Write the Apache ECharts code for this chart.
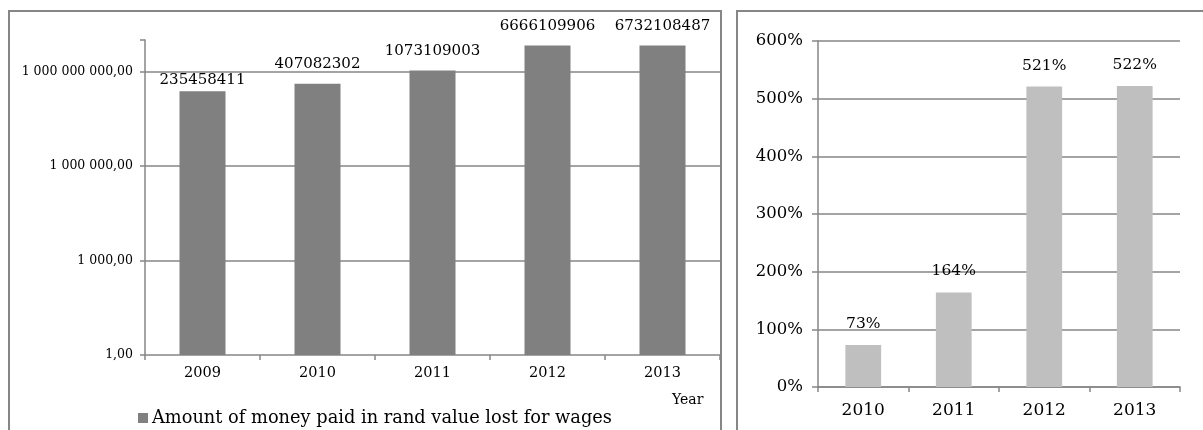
<!DOCTYPE html>
<html>
<head>
<meta charset="utf-8">
<script src="https://cdn.jsdelivr.net/npm/echarts@6/dist/echarts.min.js"></script>
<style>
html,body{margin:0;padding:0;background:#fff;}
#c{width:1203px;height:430px;}
</style>
</head>
<body>
<div id="c"></div>
<script>
// ---- data ----
var leftYears = ['2009', '2010', '2011', '2012', '2013'];
var leftValues = [235458411, 407082302, 1073109003, 6666109906, 6732108487];
var leftTicks = [1, 1000, 1000000, 1000000000];
var leftTickLabels = ['1,00', '1 000,00', '1 000 000,00', '1 000 000 000,00'];
var leftSeriesName = 'Amount of money paid in rand value lost for wages';
var leftAxisName = 'Year';

var rightYears = ['2010', '2011', '2012', '2013'];
var rightValues = [73, 164, 521, 522];

// ---- styles ----
var FONT = 'DejaVu Serif';
var GRID = '#868686';

var chart = echarts.init(document.getElementById('c'), null, {renderer: 'canvas'});

var leftData = leftValues.map(function (v, i) {
  var item = {value: v};
  if (i === 0) item.label = {distance: 4};
  return item;
});

var option = {
  animation: false,
  backgroundColor: '#fff',
  textStyle: {fontFamily: FONT, color: '#000'},
  graphic: [
    {type: 'rect', shape: {x: 9, y: 11, width: 712, height: 440}, style: {fill: 'none', stroke: GRID, lineWidth: 2}, silent: true, z: 0},
    {type: 'rect', shape: {x: 737, y: 11, width: 480, height: 440}, style: {fill: 'none', stroke: GRID, lineWidth: 2}, silent: true, z: 0}
  ],
  legend: {
    data: [leftSeriesName],
    left: 138,
    top: 409,
    padding: 0,
    itemWidth: 10,
    itemHeight: 10,
    icon: 'rect',
    textStyle: {fontFamily: FONT, fontSize: 17.8, color: '#000', padding: [0, 0, 0, -1]}
  },
  grid: [
    {left: 145, top: 40, width: 575, height: 315},
    {left: 818, top: 41, width: 362, height: 346}
  ],
  xAxis: [
    {
      type: 'category', gridIndex: 0, data: leftYears,
      name: leftAxisName, nameLocation: 'end', nameGap: -48,
      nameTextStyle: {fontFamily: FONT, fontSize: 14, color: '#000', align: 'left', verticalAlign: 'top', padding: [38, 0, 0, 0]},
      axisLine: {lineStyle: {color: GRID, width: 1.5}},
      axisTick: {show: true, length: 5, lineStyle: {color: GRID, width: 1.5}},
      axisLabel: {fontFamily: FONT, fontSize: 14.5, color: '#000', margin: 11}
    },
    {
      type: 'category', gridIndex: 1, data: rightYears,
      axisLine: {lineStyle: {color: GRID, width: 1.5}},
      axisTick: {show: true, length: 5, lineStyle: {color: GRID, width: 1.5}},
      axisLabel: {fontFamily: FONT, fontSize: 17, color: '#000', margin: 15}
    }
  ],
  yAxis: [
    {
      type: 'log', gridIndex: 0, logBase: 1000, min: 1, max: 1e10,
      axisLine: {show: true, lineStyle: {color: GRID, width: 1.5}},
      axisTick: {show: true, length: 5, lineStyle: {color: GRID, width: 1.5}},
      splitLine: {show: false},
      axisLabel: {
        fontFamily: FONT, fontSize: 12.5, color: '#000', margin: 12,
        formatter: function (v) {
          var idx = -1;
          for (var i = 0; i < leftTicks.length; i++) {
            if (Math.abs(Math.log10(v) - Math.log10(leftTicks[i])) < 1e-6) idx = i;
          }
          return idx >= 0 ? leftTickLabels[idx] : '';
        }
      }
    },
    {
      type: 'value', gridIndex: 1, min: 0, max: 600, interval: 100,
      axisLine: {show: true, lineStyle: {color: GRID, width: 1.5}},
      axisTick: {show: true, length: 6, lineStyle: {color: GRID, width: 1.5}},
      splitLine: {show: true, lineStyle: {color: GRID, width: 1.5}},
      axisLabel: {fontFamily: FONT, fontSize: 16.5, color: '#000', margin: 15, formatter: '{value}%'}
    }
  ],
  series: [
    {
      name: leftSeriesName,
      type: 'bar', xAxisIndex: 0, yAxisIndex: 0,
      data: leftData,
      barWidth: '40%',
      z: 3,
      itemStyle: {color: '#808080'},
      label: {show: true, position: 'top', distance: 12, fontFamily: FONT, fontSize: 15, color: '#000'},
      markLine: {
        silent: true, symbol: 'none', z: 1, animation: false,
        label: {show: false},
        lineStyle: {color: GRID, type: 'solid', width: 1.5},
        data: leftTicks.slice(1).map(function (v) { return {yAxis: v}; })
      }
    },
    {
      name: 'Change',
      type: 'bar', xAxisIndex: 1, yAxisIndex: 1,
      data: rightValues,
      barWidth: '39.5%',
      itemStyle: {color: '#bfbfbf'},
      label: {show: true, position: 'top', distance: 13, fontFamily: FONT, fontSize: 15.5, color: '#000', formatter: '{c}%'}
    }
  ]
};
chart.setOption(option);
</script>
</body>
</html>
